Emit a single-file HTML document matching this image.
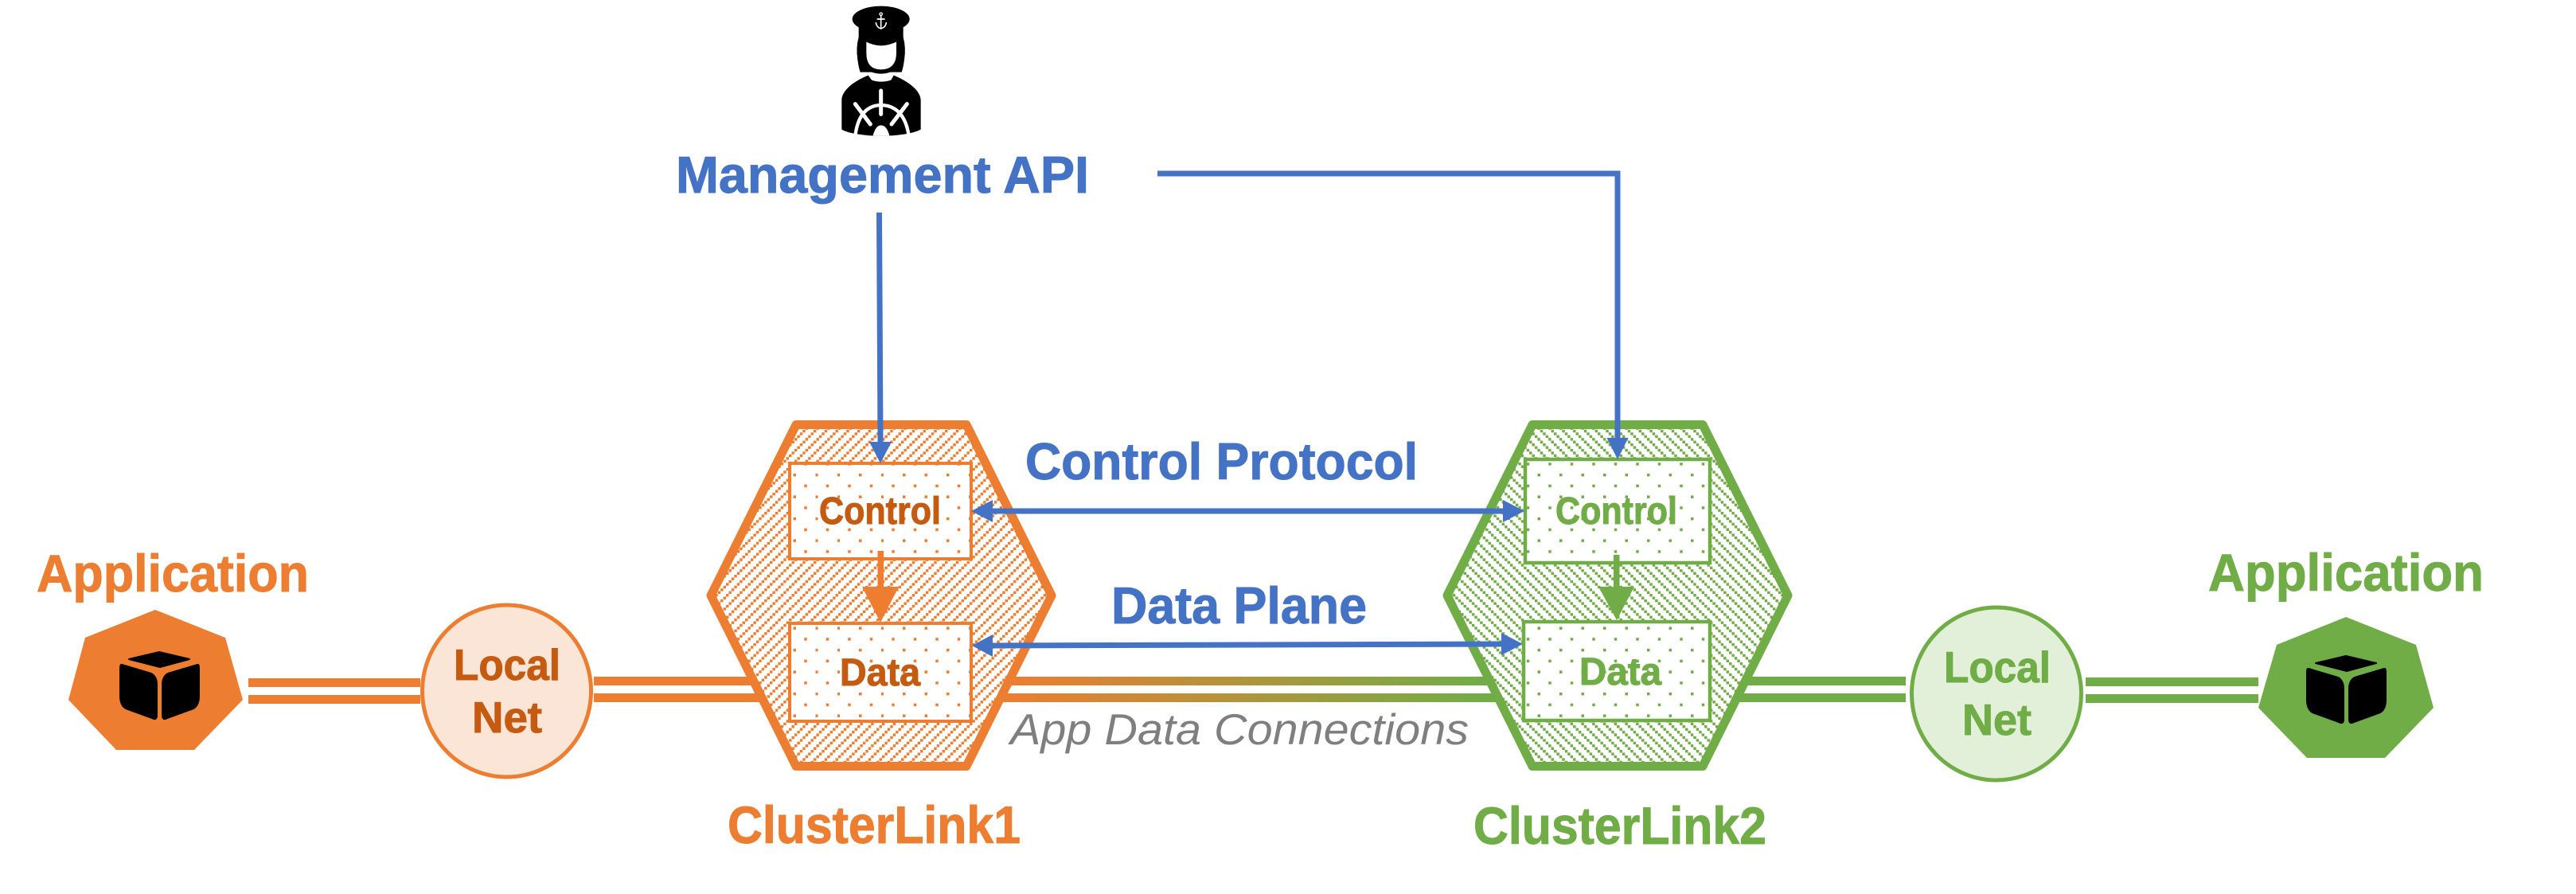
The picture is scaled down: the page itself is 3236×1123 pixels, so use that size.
<!DOCTYPE html>
<html><head><meta charset="utf-8"><style>
html,body{margin:0;padding:0;background:#fff}
svg{display:block}
text{font-family:"Liberation Sans",sans-serif;font-weight:bold}
.b text,text.b{stroke-width:1;stroke:currentColor}
</style></head><body>
<svg width="3236" height="1123" viewBox="0 0 3236 1123" xmlns="http://www.w3.org/2000/svg">
<defs>
<pattern id="up" patternUnits="userSpaceOnUse" x="1132" y="722" width="13.75" height="13.75">
<rect width="13.75" height="13.75" fill="#fff"/>
<g fill="#ed7d31"><rect x="0" y="10.31" width="3.44" height="3.44"/><rect x="3.44" y="6.88" width="3.44" height="3.44"/><rect x="6.88" y="3.44" width="3.44" height="3.44"/><rect x="10.31" y="0" width="3.44" height="3.44"/></g>
</pattern>
<pattern id="down" patternUnits="userSpaceOnUse" x="2062" y="722" width="13.75" height="13.75">
<rect width="13.75" height="13.75" fill="#fff"/>
<g fill="#70ad47"><rect x="0" y="0" width="3.44" height="3.44"/><rect x="3.44" y="3.44" width="3.44" height="3.44"/><rect x="6.88" y="6.88" width="3.44" height="3.44"/><rect x="10.31" y="10.31" width="3.44" height="3.44"/></g>
</pattern>
<pattern id="dotO" patternUnits="userSpaceOnUse" x="996.5" y="594.9" width="27.5" height="27.5">
<rect width="27.5" height="27.5" fill="#fff"/>
<rect x="0" y="0" width="3.5" height="3.5" fill="#ed7d31"/><rect x="13.75" y="13.75" width="3.5" height="3.5" fill="#ed7d31"/>
</pattern>
<pattern id="dotG" patternUnits="userSpaceOnUse" x="996.5" y="594.9" width="27.5" height="27.5">
<rect width="27.5" height="27.5" fill="#fff"/>
<rect x="0" y="0" width="3.5" height="3.5" fill="#70ad47"/><rect x="13.75" y="13.75" width="3.5" height="3.5" fill="#70ad47"/>
</pattern>
<linearGradient id="grad" gradientUnits="userSpaceOnUse" x1="1265" y1="0" x2="1870" y2="0">
<stop offset="0" stop-color="#ed7d31"/><stop offset="1" stop-color="#70ad47"/>
</linearGradient>
<g id="cube" fill="#000" stroke="#000" stroke-width="2" stroke-linejoin="round">
<path d="M200,819 L238,828 L201,838 L162,828 Z"/>
<path d="M153,835 L190,846 Q197,850 197,860 L197,900 Q196,905 191,902 L158,890 Q151,886 151,874 L151,840 Q151,834 153,835 Z"/>
<path transform="translate(401,0) scale(-1,1)" d="M153,835 L190,846 Q197,850 197,860 L197,900 Q196,905 191,902 L158,890 Q151,886 151,874 L151,840 Q151,834 153,835 Z"/>
</g>
</defs>
<rect width="3236" height="1123" fill="#fff"/>

<!-- person -->
<g transform="translate(1000,0) scale(0.3333)">
<ellipse cx="320" cy="72" rx="108" ry="49" fill="#000"/>
<path d="M236,90 L236,140 Q225,180 232,225 Q236,255 242,272 L285,272 Q320,284 355,272 L398,272 Q404,255 408,225 Q415,180 404,140 L404,90 Z" fill="#000"/>
<path d="M265,158 Q320,186 378,158 L378,200 Q378,262 320,262 Q265,262 265,200 Z" fill="#fff"/>
<path d="M272,284 L285,302 Q320,314 358,302 L368,284 C420,305 470,340 470,378 L470,488 Q440,505 360,511 L280,511 Q200,505 172,488 L172,378 C172,340 220,305 272,284 Z" fill="#000"/>
<g fill="none" stroke="#fff" stroke-linecap="round">
<path d="M320,342 L320,430" stroke-width="15"/>
<path d="M223,392 L280,468 M418,392 L360,468" stroke-width="15"/>
<path d="M224,505 Q240,398 320,396 Q405,398 424,505" stroke-width="13" stroke-linecap="butt"/>
<circle cx="320" cy="53" r="5" stroke-width="4"/>
<path d="M320,58 L320,105 M307,72 L333,72" stroke-width="5"/>
<path d="M301,86 Q304,104 320,108 Q337,104 340,86" stroke-width="5"/>
</g>
<path d="M290,511 Q300,472 320,472 Q342,472 352,511 Z" fill="#fff"/>
</g>

<!-- connection lines -->
<g fill="#ed7d31">
<rect x="312" y="852" width="216" height="11"/><rect x="312" y="873" width="216" height="11"/>
<rect x="746" y="850" width="250" height="11"/><rect x="746" y="871" width="250" height="11"/>
</g>
<rect x="1240" y="850" width="680" height="11" fill="url(#grad)"/>
<rect x="1240" y="871" width="680" height="11" fill="url(#grad)"/>
<g fill="#70ad47">
<rect x="2150" y="850" width="244" height="11"/><rect x="2150" y="871" width="244" height="11"/>
<rect x="2620" y="851" width="217" height="11"/><rect x="2620" y="872" width="217" height="11"/>
</g>

<!-- heptagons -->
<polygon points="195,766 283,801 305,879 244,942 146,942 86,879 107,801" fill="#ed7d31"/>
<polygon points="2947,775 3035,810 3057,889 2996,952 2898,952 2837,889 2860,810" fill="#70ad47"/>
<use href="#cube"/>
<use href="#cube" transform="translate(2747,5)"/>

<!-- local nets -->
<ellipse cx="636.5" cy="868" rx="106" ry="108" fill="#fbe5d6" stroke="#ed7d31" stroke-width="5"/>
<ellipse cx="2508" cy="871.5" rx="106.5" ry="108.5" fill="#e2f0d9" stroke="#70ad47" stroke-width="5"/>

<!-- hexagons -->
<polygon points="1000,533.5 1214,533.5 1321,748 1214,962.5 1000,962.5 893,748" fill="url(#up)" stroke="#ed7d31" stroke-width="11" stroke-linejoin="round"/>
<polygon points="1925,533.5 2139,533.5 2246,748 2139,962.5 1925,962.5 1818,748" fill="url(#down)" stroke="#70ad47" stroke-width="11" stroke-linejoin="round"/>

<!-- inner boxes -->
<rect x="992" y="582" width="228" height="120" fill="url(#dotO)" stroke="#ed7d31" stroke-width="4"/>
<rect x="992" y="783" width="228" height="123" fill="url(#dotO)" stroke="#ed7d31" stroke-width="4"/>
<rect x="1916" y="577" width="232" height="130" fill="url(#dotG)" stroke="#70ad47" stroke-width="4.5"/>
<rect x="1914" y="781" width="234" height="124" fill="url(#dotG)" stroke="#70ad47" stroke-width="4.5"/>

<!-- internal arrows -->
<rect x="1102.5" y="692" width="7.5" height="46" fill="#ed7d31"/>
<polygon points="1083,737 1129,737 1106,782" fill="#ed7d31"/>
<rect x="2027" y="697" width="7.5" height="40" fill="#70ad47"/>
<polygon points="2008,737 2053,737 2031,779" fill="#70ad47"/>

<!-- blue arrows -->
<g stroke="#4472c4" stroke-width="7" fill="none">
<path d="M1104.5,267 L1106,556"/>
<path d="M1454,218 L2032,218 L2032,551"/>
<path d="M1245,642 L1890,642"/>
<path d="M1245,811 L1888,809"/>
</g>
<g fill="#4472c4">
<polygon points="1092,555 1120,555 1106,582"/>
<polygon points="2018.5,550 2045.5,550 2032,577"/>
<polygon points="1220,642 1247,628 1247,656"/>
<polygon points="1915,642 1888,628 1888,656"/>
<polygon points="1221,811 1247,797 1247,825"/>
<polygon points="1913,809 1886,795 1886,823"/>
</g>

<!-- labels -->
<g class="b" font-size="65" fill="#4472c4" color="#4472c4">
<text x="849" y="242" textLength="519" lengthAdjust="spacingAndGlyphs">Management API</text>
<text x="1288" y="602" textLength="493" lengthAdjust="spacingAndGlyphs">Control Protocol</text>
<text x="1396" y="783" textLength="321" lengthAdjust="spacingAndGlyphs">Data Plane</text>
</g>
<text x="1269" y="935" font-size="55" fill="#7f7f7f" style="font-weight:normal;font-style:italic" textLength="576" lengthAdjust="spacingAndGlyphs">App Data Connections</text>
<g class="b" font-size="66" fill="#ed7d31" color="#ed7d31">
<text x="46" y="743" textLength="342" lengthAdjust="spacingAndGlyphs">Application</text>
<text x="914" y="1059" textLength="368" lengthAdjust="spacingAndGlyphs">ClusterLink1</text>
</g>
<g class="b" font-size="66" fill="#70ad47" color="#70ad47">
<text x="2774" y="742" textLength="346" lengthAdjust="spacingAndGlyphs">Application</text>
<text x="1851" y="1060" textLength="368" lengthAdjust="spacingAndGlyphs">ClusterLink2</text>
</g>
<g class="b" font-size="48" fill="#c55a11" color="#c55a11">
<text x="1029" y="658" textLength="153" lengthAdjust="spacingAndGlyphs">Control</text>
<text x="1055" y="861" textLength="101" lengthAdjust="spacingAndGlyphs">Data</text>
</g>
<g class="b" font-size="48" fill="#70ad47" color="#70ad47">
<text x="1954" y="658" textLength="153" lengthAdjust="spacingAndGlyphs">Control</text>
<text x="1984" y="860" textLength="103" lengthAdjust="spacingAndGlyphs">Data</text>
</g>
<g class="b" font-size="55" fill="#c55a11" color="#c55a11">
<text x="570" y="854" textLength="134" lengthAdjust="spacingAndGlyphs">Local</text>
<text x="593" y="920" textLength="88" lengthAdjust="spacingAndGlyphs">Net</text>
</g>
<g class="b" font-size="55" fill="#70ad47" color="#70ad47">
<text x="2442" y="857" textLength="134" lengthAdjust="spacingAndGlyphs">Local</text>
<text x="2465" y="923" textLength="87" lengthAdjust="spacingAndGlyphs">Net</text>
</g>
</svg>
</body></html>
